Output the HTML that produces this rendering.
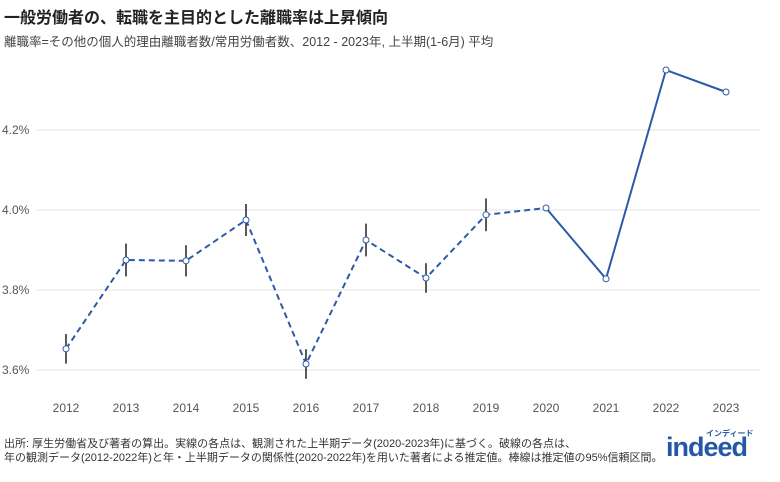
<!DOCTYPE html>
<html><head><meta charset="utf-8">
<style>
body{margin:0;background:#fff;width:780px;height:482px;overflow:hidden;font-family:"Liberation Sans","Noto Sans CJK JP",sans-serif;}
.t{position:absolute;left:4px;top:4px;font-size:16px;font-weight:bold;color:#222;}
.s{position:absolute;left:4px;top:31px;font-size:12.5px;color:#444;}
.f{position:absolute;left:4px;top:437px;font-size:11px;color:#333;line-height:14px;}
.logo{position:absolute;left:666px;top:428px;color:#2557a7;}
</style></head><body>
<div class="t">一般労働者の、転職を主目的とした離職率は上昇傾向</div>
<div class="s">離職率=その他の個人的理由離職者数/常用労働者数、2012 - 2023年, 上半期(1-6月) 平均</div>
<svg id="c" width="780" height="482" style="position:absolute;left:0;top:0"></svg>
<div class="f">出所: 厚生労働省及び著者の算出。実線の各点は、観測された上半期データ(2020-2023年)に基づく。破線の各点は、<br>年の観測データ(2012-2022年)と年・上半期データの関係性(2020-2022年)を用いた著者による推定値。棒線は推定値の95%信頼区間。</div>
<div class="logo"><div style="font-size:8px;position:absolute;left:40px;top:0;white-space:nowrap;font-weight:bold">インディード</div><div style="font-size:27px;font-weight:bold;position:absolute;top:4px;letter-spacing:-1px">indeed</div></div>
<script>
const years=[2012,2013,2014,2015,2016,2017,2018,2019,2020,2021,2022,2023];
const rates=[3.653,3.875,3.873,3.975,3.615,3.925,3.830,3.988,4.005,3.828,4.350,4.295];
const errs=[0.037,0.041,0.039,0.040,0.037,0.041,0.037,0.041,0,0,0,0];
const yTicks=[3.6,3.8,4.0,4.2];
const NS="http://www.w3.org/2000/svg";
const svg=document.getElementById('c');
const x=y=>66+(y-2012)*60;
const yy=v=>370-(v-3.6)*400;
function el(t,a){const e=document.createElementNS(NS,t);for(const k in a)e.setAttribute(k,a[k]);svg.appendChild(e);return e;}
yTicks.forEach(v=>{
 const g=el('line',{x1:36,x2:760,y1:yy(v),y2:yy(v),stroke:'#e3e3e3','stroke-width':1});
 
 
 const t=el('text',{x:2,y:yy(v)+4,'font-size':12,fill:'#555'});t.textContent=v.toFixed(1)+'%';
 
 
});
years.forEach(yr=>{
 const t=el('text',{x:x(yr),y:412,'font-size':12,fill:'#555','text-anchor':'middle'});t.textContent=yr;
 
 
});
const split=years.indexOf(2020);
let d1='',d2='';
years.forEach((yr,i)=>{const p=x(yr)+','+yy(rates[i]);if(i<=split)d1+=(i?'L':'M')+p;if(i>=split)d2+=(i>split?'L':'M')+p;});
const l1=el('path',{d:d1,fill:'none',stroke:'#2d5aa8','stroke-width':2,'stroke-dasharray':'6,4'});


const l2=el('path',{d:d2,fill:'none',stroke:'#2d5aa8','stroke-width':2});


years.forEach((yr,i)=>{
 if(errs[i]>0){const e=el('line',{x1:x(yr),x2:x(yr),y1:yy(rates[i]+errs[i]),y2:yy(rates[i]-errs[i]),stroke:'#222','stroke-width':1.5});
 
 }
 const c=el('circle',{cx:x(yr),cy:yy(rates[i]),r:3,fill:'#fff',stroke:'#2d5aa8','stroke-width':1});
 
 
});
</script>
</body></html>
